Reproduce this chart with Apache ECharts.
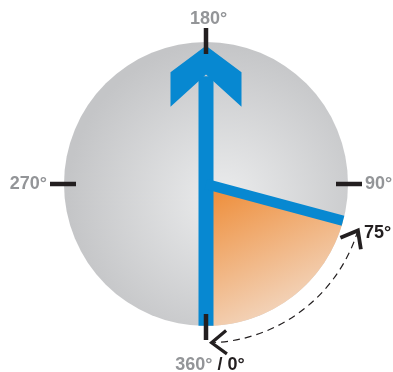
<!DOCTYPE html>
<html>
<head>
<meta charset="utf-8">
<script src="https://cdn.jsdelivr.net/npm/echarts@6/dist/echarts.min.js"></script>
<style>
  html, body { margin: 0; padding: 0; background: #fff; }
  #chart { width: 393px; height: 372px; }
</style>
</head>
<body>
<div id="chart"></div>
<script>
// angles in degrees, 0 at the bottom, counting anticlockwise
const tickAngles = [0, 90, 180, 270]
const tickLabels = ['360°', '90°', '180°', '270°']
const zeroLabel = '0°'
const sweepAngle = 75            // orange sector + needle
const arrowAngle = 180           // big arrow points here
const arcSpan = [2, 73]          // dashed arc from / to
const sweepLabel = '75°'

const BLUE = '#0788d1'
const INK = '#231f20'
const GREY_TEXT = '#939598'
const FONT = '"Liberation Sans", Arial, sans-serif'
const CENTER = [206, 184]
const DISC_R = 142

const arrowPath = 'path://M35.5 0 L71 26.3 L71 60.7 L35.5 28.6 L0 60.7 L0 26.3 Z'

const chart = echarts.init(document.getElementById('chart'))

function labelFormatter(v) {
  const i = tickAngles.indexOf(v)
  if (i < 0) return ''
  if (v === 0) return '{b|' + tickLabels[i] + '}{k| / ' + zeroLabel + '}'
  if (v === 180) return '{t|' + tickLabels[i] + '}'
  return '{g|' + tickLabels[i] + '}'
}

function arrowHead(p, dir, color, width) {
  const len = 19
  const spread = 38 * Math.PI / 180
  const a = [p[0] + len * Math.cos(dir - spread), p[1] + len * Math.sin(dir - spread)]
  const b = [p[0] + len * Math.cos(dir + spread), p[1] + len * Math.sin(dir + spread)]
  return {
    type: 'polyline',
    shape: { points: [a, p, b] },
    style: { stroke: color, lineWidth: width, fill: null, lineJoin: 'miter', lineCap: 'butt' }
  }
}

function renderSweep(params, api) {
  const cs = params.coordSys
  const r = api.value(0)
  const p0 = api.coord([r, api.value(1)])
  const p1 = api.coord([r, api.value(2)])
  const rad = Math.hypot(p0[0] - cs.cx, p0[1] - cs.cy)
  const t0 = Math.atan2(p0[1] - cs.cy, p0[0] - cs.cx)
  const t1 = Math.atan2(p1[1] - cs.cy, p1[0] - cs.cx)
  const tilt = 12 * Math.PI / 180
  return {
    type: 'group',
    children: [
      {
        type: 'arc',
        shape: { cx: cs.cx, cy: cs.cy, r: rad, startAngle: t1, endAngle: t0, clockwise: true },
        style: { stroke: INK, lineWidth: 1.2, lineDash: [7, 5], fill: null }
      },
      arrowHead(p0, t0 - Math.PI / 2, INK, 3.2),
      arrowHead(p1, t1 + Math.PI / 2 + tilt, INK, 3.8),
      {
        type: 'text',
        style: {
          text: sweepLabel,
          x: p1[0] + 6,
          y: p1[1] + 3,
          fill: INK,
          font: 'bold 18px ' + FONT,
          textAlign: 'left',
          textVerticalAlign: 'middle',
          align: 'left',
          verticalAlign: 'middle'
        }
      }
    ]
  }
}

chart.setOption({
  animation: false,
  polar: {
    center: CENTER,
    radius: 156
  },
  radiusAxis: {
    type: 'value',
    min: 0,
    max: 1.1,
    show: false
  },
  angleAxis: {
    type: 'value',
    min: 0,
    max: 360,
    interval: 90,
    startAngle: 270,
    clockwise: false,
    z: 10,
    axisLine: { show: false },
    splitLine: { show: false },
    axisTick: {
      show: true,
      inside: true,
      length: 26,
      lineStyle: { color: INK, width: 4.5 }
    },
    axisLabel: {
      margin: 3,
      formatter: labelFormatter,
      fontFamily: FONT,
      fontWeight: 'bold',
      fontSize: 18,
      color: GREY_TEXT,
      rich: {
        g: { fontFamily: FONT, fontWeight: 'bold', fontSize: 18, color: GREY_TEXT },
        t: { fontFamily: FONT, fontWeight: 'bold', fontSize: 18, color: GREY_TEXT, lineHeight: 12, padding: [0, 0, 0, 5] },
        b: { fontFamily: FONT, fontWeight: 'bold', fontSize: 18, color: GREY_TEXT, lineHeight: 44, padding: [0, 0, 0, 8] },
        k: { fontFamily: FONT, fontWeight: 'bold', fontSize: 18, color: INK, lineHeight: 44 }
      }
    }
  },
  series: [
    {
      // grey disc
      type: 'pie',
      center: CENTER,
      radius: DISC_R,
      silent: true,
      z: 1,
      label: { show: false },
      labelLine: { show: false },
      emphasis: { disabled: true },
      data: [{
        value: 360,
        itemStyle: {
          borderWidth: 0,
          color: {
            type: 'radial', x: 0.56, y: 0.55, r: 0.55,
            colorStops: [{ offset: 0, color: '#ebeced' }, { offset: 1, color: '#c4c5c7' }]
          }
        }
      }]
    },
    {
      // orange sweep
      type: 'pie',
      center: CENTER,
      radius: DISC_R,
      startAngle: 270,
      clockwise: false,
      silent: true,
      z: 2,
      label: { show: false },
      labelLine: { show: false },
      emphasis: { disabled: true },
      data: [
        {
          value: sweepAngle,
          itemStyle: {
            borderWidth: 0,
            color: {
              type: 'linear', x: 0, y: 0, x2: 0.5, y2: 1,
              colorStops: [{ offset: 0, color: '#ee8a33' }, { offset: 1, color: '#f3d9c4' }]
            }
          }
        },
        { value: 360 - sweepAngle, itemStyle: { color: 'rgba(0,0,0,0)', borderWidth: 0 } }
      ]
    },
    {
      // vertical shaft with arrow head
      type: 'line',
      coordinateSystem: 'polar',
      z: 3,
      silent: true,
      clip: false,
      symbol: 'none',
      showSymbol: true,
      lineStyle: { color: BLUE, width: 15, cap: 'butt' },
      data: [
        [1, 0],
        [0, 0],
        {
          value: [0.76, arrowAngle],
          symbol: arrowPath,
          symbolSize: [71, 61],
          itemStyle: { color: BLUE, borderWidth: 0 }
        }
      ]
    },
    {
      // needle
      type: 'line',
      coordinateSystem: 'polar',
      z: 4,
      silent: true,
      clip: false,
      symbol: 'none',
      lineStyle: { color: BLUE, width: 10.5, cap: 'butt' },
      data: [[0, sweepAngle], [1, sweepAngle]]
    },
    {
      // dashed sweep arc with arrow heads
      type: 'custom',
      coordinateSystem: 'polar',
      z: 5,
      silent: true,
      renderItem: renderSweep,
      data: [[1.12, arcSpan[0], arcSpan[1]]]
    }
  ]
})
</script>
</body>
</html>
